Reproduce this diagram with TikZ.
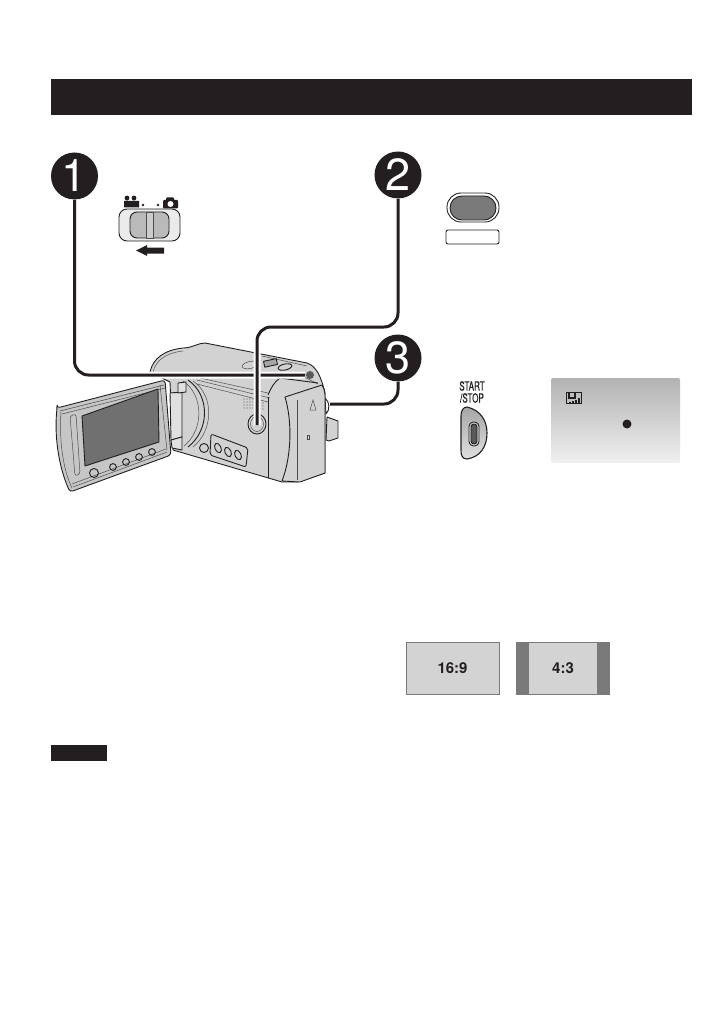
\documentclass[tikz,border=0pt]{standalone}
\usepackage{fontspec}
\setmainfont{TeX Gyre Heros}
\newfontfamily\narrowfont[FakeStretch=0.65,FakeBold=0.4]{TeX Gyre Heros}
\definecolor{inkblack}{HTML}{231F20}
\definecolor{bodygray}{HTML}{D2D2D2}
\definecolor{lcdgray}{HTML}{C6C6C6}
\definecolor{screengray}{HTML}{707070}
\definecolor{barsgray}{HTML}{7A7A7A}
\definecolor{panelgray}{HTML}{D3D3D3}
\tikzset{
  stepmark/.style={circle,fill=inkblack,minimum size=47pt,inner sep=0pt,text=white,font=\fontsize{45}{45}\selectfont},
  leader/.style={line width=3pt,draw=inkblack,rounded corners=14pt,preaction={draw=white,line width=7pt}},
  camline/.style={draw=inkblack,line width=0.9pt,line join=round},
  thinline/.style={draw=inkblack!80,line width=0.5pt},
  aspectbox/.style={draw=barsgray,line width=1pt,fill=panelgray,minimum width=93pt,minimum height=52pt,inner sep=0pt,font=\fontsize{15}{15}\selectfont\bfseries,text=inkblack},
}
\begin{document}
\begin{tikzpicture}[x=1pt,y=-1pt]
  \useasboundingbox (0,0) rectangle (726,1032);
  \node[fill=inkblack,minimum width=641pt,minimum height=36pt,inner sep=0pt] (titlebar) at (371.5,97) {};
  \node[fill=inkblack,minimum width=56pt,minimum height=16pt,inner sep=0pt] (notebar) at (79,753) {};
  % mode switch
  \draw[camline,fill=black!8,rounded corners=8pt] (119,209) rectangle (180,241);
  \draw[camline,fill=black!27,rounded corners=7pt] (130,212) rectangle (169,238);
  \draw[thinline,fill=black!20] (146,212) rectangle (153,238);
  \fill[inkblack] (164,247.5) -- (147,247.5) -- (147,245) -- (136,250.5) -- (147,256) -- (147,253.5) -- (164,253.5) -- cycle;
  \fill[inkblack] (124,201) rectangle (139,207.5) (127,198) circle (2.4) (134,198) circle (2.4);
  \fill[inkblack] (143,205) circle (1.3) (158,205) circle (1.3);
  \fill[inkblack,rounded corners=1pt] (163,200) rectangle (178,208.5) (166,197.5) rectangle (174,201);
  \fill[white] (170.5,204) circle (3);
  % camera body
  \draw[camline,fill=bodygray] (170,382) -- (150,372) .. controls (153,358) and (165,350) .. (183,348)
    .. controls (192,348) and (198,343) .. (205,343) -- (307,363) .. controls (316,366) and (321,376) .. (325,393)
    -- (325,473) -- (297,482) -- (282,482) -- (173,450) -- cycle;
  \draw[camline,fill=bodygray] (327,417) -- (338,421) -- (338,438) -- (329,441) -- (326,440) -- cycle;
  \draw[camline,fill=white] (325,398) .. controls (330,402) and (330,410) .. (326,414) -- cycle;
  \draw[thinline] (153,372) .. controls (156,360) and (166,353) .. (183,351);
  \draw[thinline] (197,380) -- (270,398) (197,384) -- (268,402) (200,378) -- (268,393);
  \draw[thinline] (262,356) -- (307,366) (296,373) -- (318,384);
  \draw[camline] (188,380) .. controls (210,395) and (210,430) .. (188,447);
  \draw[thinline] (183,381) .. controls (204,395) and (204,430) .. (184,446) (193,381) .. controls (214,395) and (214,430) .. (193,447);
  \draw[camline,fill=black!12] (170,393) -- (182,392) -- (182,437) -- (171,440) -- cycle;
  \draw[camline,fill=black!12] (171,440) -- (182,437) -- (182,450) -- (172,448) -- cycle;
  \draw[camline,fill=black!12] (178,383) -- (186,382) -- (186,392) -- (178,393) -- cycle;
  \draw[camline] (268,397) -- (268,478);
  \draw[thinline,rotate around={12:(250,365)}] (250,365) ellipse (8 and 3.5);
  \draw[camline,fill=black!35,rotate around={12:(270,363)}] (264,360) rectangle (277,366);
  \draw[camline,rotate around={12:(285,367)}] (285,367) ellipse (7 and 3);
  \fill[black!65] (310,375) circle (4);
  \foreach \gx in {244,247,250,253} \foreach \gy in {399,402,405,408} \fill[inkblack!75] (\gx,\gy) circle (0.6);
  \foreach \gy in {403,406,409} \fill[inkblack!75] (260,\gy) circle (0.6) (263,\gy) circle (0.6);
  \draw[camline] (257,424) circle (9 and 10);
  \draw[thinline] (257,424) circle (6.5 and 7.5);
  \draw[camline,rounded corners=2pt] (211,434) -- (248,448) -- (246,467) -- (210,455) -- cycle;
  \foreach \ox/\oy in {218/448,228/452,238/455} \draw[camline,rotate around={25:(\ox,\oy)}] (\ox,\oy) circle (3 and 5);
  \draw[camline] (204,448) circle (4.5);
  % hand strap
  \draw[camline,fill=bodygray] (285,397) -- (322,385) .. controls (325,390) and (325,394) .. (325,398) -- (325,473) -- (300,482) -- (282,481)
    .. controls (292,455) and (292,420) .. (285,397) -- cycle;
  \draw[thinline] (297,400) -- (297,480);
  \draw[camline] (268,395) .. controls (271,388) and (274,382) .. (280,378) -- (318,383);
  \draw[thinline] (313,400) -- (310,410) -- (316,410) -- cycle;
  \draw[thinline] (307,435) rectangle (309,439);
  % lcd monitor
  \draw[camline,fill=lcdgray,rounded corners=3pt] (57,408) -- (165,380) -- (171,455) -- (70,492) .. controls (60,470) and (54,440) .. (57,408) -- cycle;
  \draw[thinline] (60,411) -- (164,385) (62,414) -- (165,388) (160,385) -- (167,450) (73,487) -- (167,452) (72,484) -- (166,449);
  \draw[thinline] (61,412) .. controls (59,440) and (63,470) .. (72,488);
  \draw[camline,fill=screengray] (82,416) -- (158,389) -- (159,442) -- (85,466) -- cycle;
  \draw[thinline,rounded corners=2.5pt] (70,416) -- (76,414) -- (80,474) -- (75,476) -- cycle;
  \draw[camline] (94,473) circle (4.5);
  \foreach \bx/\by in {113/467,126/462,139/457,152/452} \draw[camline] (\bx,\by) circle (3.4);
  % step marks and leaders
  \node[stepmark] (stepone) at (74.5,176) {1};
  \node[stepmark] (steptwo) at (398,175) {2};
  \node[stepmark] (stepthree) at (398,358) {3};
  \coordinate (dialend) at (305,375);
  \coordinate (powerend) at (257,425);
  \coordinate (gripend) at (330,404);
  \coordinate (powerbend) at (257,327);
  \draw[leader] (stepone.south) |- (dialend);
  \draw[leader] (steptwo.south) -- (steptwo.south|-powerbend) -- (powerbend) -- (powerend);
  \draw[leader] (stepthree.south) |- (gripend);
  % power button key
  \draw[camline,rounded corners=14pt,fill=white] (447,193) rectangle (499,222);
  \draw[camline,rounded corners=12pt,fill=barsgray] (450,196) rectangle (496,220);
  \draw[camline,rounded corners=2pt,fill=white] (446,230) rectangle (499,244);
  % start stop key
  \node[font=\narrowfont\fontsize{12.5}{12}\selectfont,align=center,inner sep=0pt,text=inkblack] (startlabel) at (472,392) {START\\/STOP};
  \draw[camline,line width=1.1pt,top color=black!35,bottom color=black!12] (467,407) .. controls (480,410) and (487,420) .. (487,433)
    .. controls (487,447) and (480,457) .. (467,459) .. controls (462,459) and (461,455) .. (461,450) -- (461,416) .. controls (461,411) and (463,407) .. (467,407) -- cycle;
  \draw[camline,fill=black!15,rounded corners=4.5pt] (469,422) rectangle (479,446);
  \draw[camline,fill=black!65,rounded corners=3pt] (471,424) rectangle (477,444);
  % monitor view
  \shade[top color=black!30,bottom color=black!6,rounded corners=1.5pt] (551,378) rectangle (680,463);
  \draw[inkblack,line width=1pt,fill=black!25] (566.5,392.5) rectangle (581.5,403.5);
  \draw[inkblack,line width=1.6pt] (569,393) -- (569,398) -- (575,398) -- (575,393);
  \foreach \sx/\sy in {570/402,573/401,576/400,579/398} \draw[inkblack,line width=2pt] (\sx,403) -- (\sx,\sy);
  \fill[inkblack] (627,424) circle (4.5);
  % aspect samples
  \node[aspectbox] (widebox) at (452.5,668.5) {16:9};
  \node[fill=barsgray,minimum width=94pt,minimum height=53pt,inner sep=0pt] (narrowbars) at (563,668.5) {};
  \node[fill=panelgray,minimum width=68pt,minimum height=51pt,inner sep=0pt,font=\fontsize{15}{15}\selectfont\bfseries,text=inkblack] (narrowbox) at (563,668.5) {4:3};
\end{tikzpicture}
\end{document}
